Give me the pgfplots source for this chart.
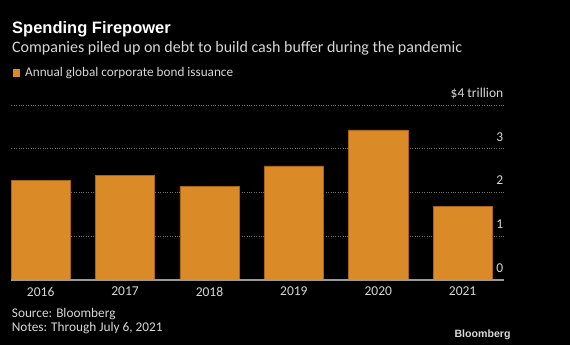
\documentclass[border=0pt]{standalone}
\usepackage{pgfplots}
\pgfplotsset{compat=1.18}
\usepackage{fontspec}
\setmainfont{Carlito}
\newfontfamily\titlefont{Liberation Sans}
\definecolor{barorange}{RGB}{218,138,38}
\definecolor{baredge}{RGB}{170,100,25}
\definecolor{gridgray}{RGB}{110,110,110}
\definecolor{txtgray}{RGB}{215,215,215}
\begin{document}
\begin{tikzpicture}[x=1pt,y=1pt]
\fill[black] (0,0) rectangle (570,345);
\useasboundingbox (0,0) rectangle (570,345);
\node[anchor=base west, inner sep=0pt, text=white, font=\titlefont\fontsize{16.5}{18}\selectfont\bfseries] at (12,311.7) {Spending Firepower};
\node[anchor=base west, inner sep=0pt, text=txtgray, font=\fontsize{16}{18}\selectfont] at (12,292.7) {Companies piled up on debt to build cash buffer during the pandemic};
\fill[barorange] (13.3,268) rectangle (20.3,276);
\node[anchor=base west, inner sep=0pt, text=txtgray, font=\fontsize{13.2}{15}\selectfont] at (25,268) {Annual global corporate bond issuance};
\node[anchor=base west, inner sep=0pt, text=txtgray, font=\fontsize{13.3}{15}\selectfont] at (11.7,27) {Source: Bloomberg};
\node[anchor=base west, inner sep=0pt, text=txtgray, font=\fontsize{13.3}{15}\selectfont] at (11.7,13.3) {Notes: Through July 6, 2021};
\node[anchor=base east, inner sep=0pt, text=txtgray, font=\titlefont\fontsize{10.6}{12}\selectfont\bfseries] at (510.7,7) {Bloomberg};
\begin{axis}[
  at={(11.3pt,65pt)}, anchor=south west,
  scale only axis, width=492.7pt, height=175pt,
  xmin=-0.348, xmax=5.49, ymin=0, ymax=4,
  clip=false,
  axis line style={draw=none},
  tick style={draw=none},
  xtick={0,1,2,3,4,5},
  xticklabels={2016,2017,2018,2019,2020,2021},
  ytick={0,1,2,3,4},
  yticklabels={0,1,2,3,\$4 trillion},
  yticklabel pos=right,
  yticklabel style={anchor=base east, inner sep=0pt, xshift=-0.5pt, yshift=7.5pt, text=txtgray, font=\fontsize{13.5}{15}\selectfont},
  xticklabel style={anchor=north, inner sep=0pt, yshift=-7pt, text=txtgray, font=\fontsize{13.5}{15}\selectfont},
  ymajorgrids,
  grid style={gridgray, dotted, line width=0.8pt},
]
\addplot[ybar, bar width=0.7, fill=barorange, draw=baredge, line width=0.5pt] coordinates {
  (0,2.27) (1,2.39) (2,2.14) (3,2.61) (4,3.43) (5,1.69)
};
\draw[gray!80, line width=1.3pt] (axis cs:-0.348,0) -- (axis cs:5.49,0);
\end{axis}
\end{tikzpicture}
\end{document}
